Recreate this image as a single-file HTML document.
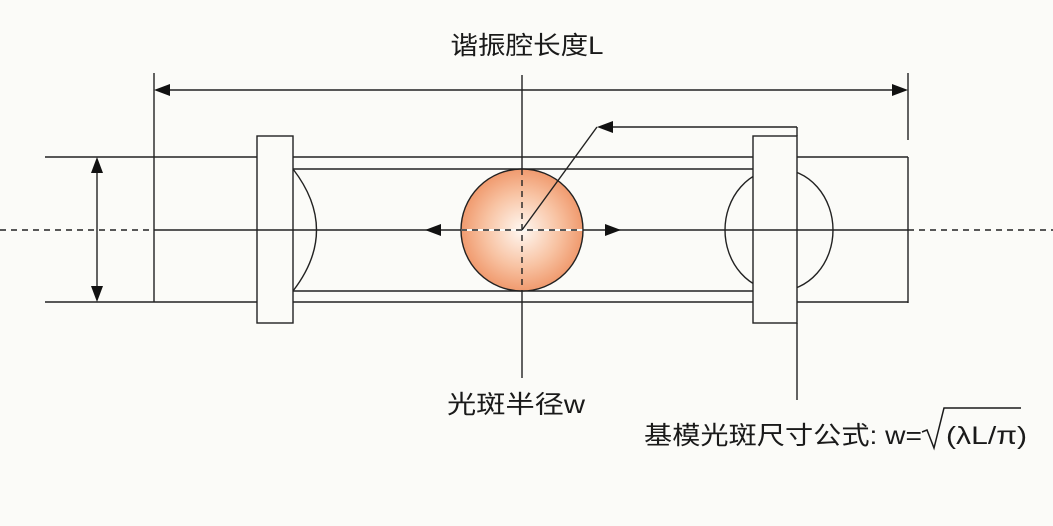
<!DOCTYPE html>
<html><head><meta charset="utf-8"><style>
html,body{margin:0;padding:0;background:#fbfbf8;}
svg{display:block}
text{font-family:"Liberation Sans","Noto Sans CJK SC",sans-serif;fill:#1a1a1a}
</style></head><body>
<svg width="1053" height="526" viewBox="0 0 1053 526" xmlns="http://www.w3.org/2000/svg">
<defs>
<radialGradient id="g" cx="50%" cy="50%" r="50%">
<stop offset="0" stop-color="#fff8f2"/><stop offset="0.6" stop-color="#f8c3a3"/><stop offset="1" stop-color="#f09a6e"/>
</radialGradient>
</defs>
<g stroke="#222" stroke-width="1.4" fill="none">
<line x1="0" y1="230" x2="154" y2="230" stroke-dasharray="6,5"/>
<line x1="908" y1="230" x2="1053" y2="230" stroke-dasharray="6,5"/>
<line x1="154" y1="230" x2="908" y2="230"/>
<line x1="45" y1="157" x2="154" y2="157"/>
<line x1="45" y1="302" x2="154" y2="302"/>
<line x1="97" y1="170" x2="97" y2="289"/>
<line x1="154" y1="73" x2="154" y2="157"/>
<line x1="908" y1="73" x2="908" y2="140"/>
<line x1="166" y1="90" x2="896" y2="90"/>
<line x1="154" y1="157" x2="154" y2="302"/>
<line x1="908" y1="157" x2="908" y2="303"/>
<line x1="154" y1="157" x2="908" y2="157"/>
<line x1="154" y1="302" x2="908" y2="302"/>
<line x1="293" y1="169" x2="753" y2="169"/>
<line x1="293" y1="291" x2="753" y2="291"/>
<path d="M293,169 Q340,230 293,291"/>
<ellipse cx="779" cy="230" rx="54" ry="61"/>
</g>
<circle cx="522" cy="230" r="61" fill="url(#g)" stroke="#222" stroke-width="1.4"/>
<g stroke="#222" stroke-width="1.4" fill="none">
<line x1="522" y1="75" x2="522" y2="169"/>
<line x1="522" y1="291" x2="522" y2="378"/>
<line x1="522" y1="169" x2="522" y2="291" stroke-dasharray="6,5"/>
<line x1="461" y1="230" x2="583" y2="230" stroke="#fbfbf8" stroke-width="2"/>
<line x1="461" y1="230" x2="583" y2="230" stroke-dasharray="6,5"/>
<line x1="522" y1="230" x2="597" y2="127"/>
<line x1="610" y1="127" x2="797" y2="127"/>
<line x1="797" y1="127" x2="797" y2="136"/>
<line x1="797" y1="323" x2="797" y2="400"/>
</g>
<rect x="257" y="136" width="36" height="187" fill="#fbfbf8" stroke="#222" stroke-width="1.4"/>
<rect x="753" y="136" width="44" height="187" fill="#fbfbf8" stroke="#222" stroke-width="1.4"/>
<line x1="753" y1="230" x2="797" y2="230" stroke="#222" stroke-width="1.4"/>
<line x1="257" y1="230" x2="293" y2="230" stroke="#222" stroke-width="1.4"/>
<g fill="#111">
<polygon points="154,90 170,84 170,96"/>
<polygon points="908,90 892,84 892,96"/>
<polygon points="97,157 91,173 103,173"/>
<polygon points="97,302 91,286 103,286"/>
<polygon points="425,230 441,224 441,236"/>
<polygon points="621,230 605,224 605,236"/>
<polygon points="597,127 613,121 613,133"/>
</g>
<text x="527" y="54" font-size="25" text-anchor="middle" textLength="153" lengthAdjust="spacingAndGlyphs">谐振腔长度L</text>
<text x="516" y="413" font-size="25" text-anchor="middle" textLength="138" lengthAdjust="spacingAndGlyphs">光斑半径w</text>
<text x="644" y="444" font-size="25" textLength="278" lengthAdjust="spacingAndGlyphs">基模光斑尺寸公式: w=</text>
<path d="M922,432 L927,430 L934,448 L944,408 L1021,408" stroke="#1a1a1a" stroke-width="1.5" fill="none"/>
<text x="946" y="444" font-size="25" textLength="81" lengthAdjust="spacingAndGlyphs">(λL/π)</text>
</svg>
</body></html>
